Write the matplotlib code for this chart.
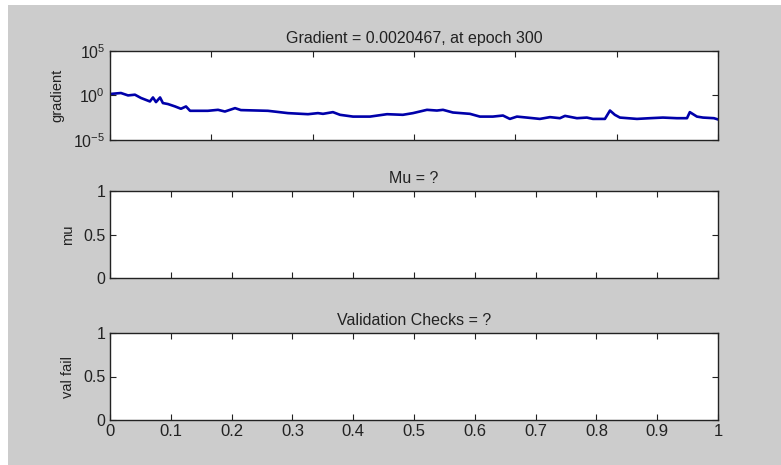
import matplotlib
matplotlib.use("Agg")
import matplotlib.pyplot as plt
from matplotlib.patches import Rectangle
from matplotlib.ticker import FixedLocator, NullFormatter

plt.rcParams["font.family"] = ["Liberation Sans", "DejaVu Sans"]

# gradient curve (epoch, log10 of gradient)
epocas = [0, 5.4, 8.9, 12.3, 15.3, 19.7, 21.2, 22.7, 24.7, 26.1, 28.6, 32.1, 35.0,
          37.5, 39.5, 48.3, 53.3, 56.7, 61.7, 64.6, 77.9, 87.8, 97.7, 102.6, 105.1,
          110.0, 113.5, 119.9, 128.3, 136.7, 144.5, 149.5, 156.4, 161.3, 164.3,
          169.2, 177.6, 182.5, 188.9, 193.9, 197.3, 200.8, 205.7, 212.1, 217.1,
          222.0, 224.5, 230.4, 235.3, 238.3, 244.2, 246.7, 249.1, 251.6, 260.0,
          266.4, 272.8, 279.7, 284.7, 286.1, 289.6, 292.6, 298.0, 300]
log_grad = [0.17, 0.28, 0.01, 0.09, -0.28, -0.67, -0.22, -0.74, -0.22, -0.85, -0.96,
            -1.23, -1.49, -1.23, -1.72, -1.72, -1.61, -1.80, -1.42, -1.64, -1.72,
            -1.98, -2.10, -1.98, -2.06, -1.87, -2.17, -2.37, -2.37, -2.10, -2.17,
            -1.98, -1.61, -1.69, -1.61, -1.91, -2.06, -2.37, -2.37, -2.25, -2.63,
            -2.37, -2.48, -2.63, -2.43, -2.55, -2.29, -2.55, -2.48, -2.63, -2.63,
            -1.69, -2.17, -2.48, -2.63, -2.55, -2.48, -2.55, -2.55, -1.87, -2.37,
            -2.48, -2.55, -2.69]
gradiente = [10 ** v for v in log_grad]

titulos = ["Gradient = 0.0020467, at epoch 300", "Mu = ?", "Validation Checks = ?"]
etiquetas_y = ["gradient", "mu", "val fail"]
ticks_x = [0, 0.1, 0.2, 0.3, 0.4, 0.5, 0.6, 0.7, 0.8, 0.9, 1]
ticks_x_etiq = ["0", "0.1", "0.2", "0.3", "0.4", "0.5", "0.6", "0.7", "0.8", "0.9", "1"]

fig = plt.figure(figsize=(7.81, 4.65), dpi=100, facecolor="white")
fig.patches.append(Rectangle((8 / 781, 0), 1, 1 - 5 / 465, transform=fig.transFigure,
                             facecolor="#cccccc", edgecolor="none", zorder=-10))

izq, ancho = 110 / 781, 608 / 781
pos = [(izq, 325 / 465, ancho, 89 / 465),
       (izq, 187 / 465, ancho, 87 / 465),
       (izq, 45 / 465, ancho, 87 / 465)]
color_txt = "#222222"

ejes = []
for i, p in enumerate(pos):
    ax = fig.add_axes(p)
    ax.set_facecolor("white")
    for s in ax.spines.values():
        s.set_color("#222222")
        s.set_linewidth(1.0)
    ax.tick_params(direction="in", length=4, width=0.8, top=True, right=True,
                   colors="#222222", labelcolor=color_txt, labelsize=11.5)
    ax.set_title(titulos[i], fontsize=11.5, color=color_txt, pad=6)
    ax.set_ylabel(etiquetas_y[i], fontsize=10.5, color=color_txt, labelpad=6)
    ejes.append(ax)

# gradient panel
ax = ejes[0]
ax.plot(epocas, gradiente, color="#0000aa", linewidth=1.9)
ax.set_yscale("log")
ax.set_ylim(1e-5, 1e5)
ax.set_xlim(0, 300)
ax.yaxis.set_major_locator(FixedLocator([1e-5, 1e0, 1e5]))
ax.yaxis.set_minor_locator(FixedLocator([]))
ax.set_xticks([0, 50, 100, 150, 200, 250, 300])
ax.xaxis.set_major_formatter(NullFormatter())

# mu and val fail panels (empty)
for ax in ejes[1:]:
    ax.set_xlim(0, 1)
    ax.set_ylim(0, 1)
    ax.set_yticks([0, 0.5, 1])
    ax.set_yticklabels(["0", "0.5", "1"])
    ax.set_xticks(ticks_x)
ejes[1].xaxis.set_major_formatter(NullFormatter())
ejes[2].set_xticklabels(ticks_x_etiq)
ejes[2].tick_params(axis="x", labelsize=12, pad=3)

fig.savefig("out.png", dpi=100, facecolor=fig.get_facecolor())
